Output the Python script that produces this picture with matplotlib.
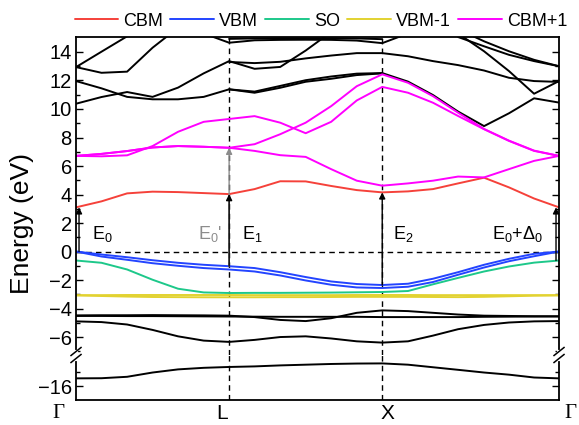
import matplotlib
matplotlib.use("Agg")
import matplotlib.pyplot as plt
import matplotlib.transforms as mtransforms
from matplotlib.lines import Line2D
import numpy as np

plt.rcParams['font.family'] = ['Liberation Sans', 'DejaVu Sans']
plt.rcParams['mathtext.default'] = 'regular'

nan = np.nan

# k-path sample points: Gamma - L - X - Gamma
k = [0.0, 0.144, 0.289, 0.433, 0.577, 0.722, 0.866,
     1.010, 1.155, 1.299, 1.443, 1.588, 1.732,
     1.878, 2.019, 2.161, 2.308, 2.449, 2.591, 2.732]
kpts = [0.0, 0.866, 1.732, 2.732]
klabels = ['Γ', 'L', 'X', 'Γ']

# conduction bands
cbm = [3.10, 3.52, 4.08, 4.20, 4.17, 4.10, 4.03, 4.38, 4.93, 4.92, 4.60, 4.31, 4.15,
       4.22, 4.38, 4.78, 5.18, 4.50, 3.72, 3.10]
cbm1_a = [6.71, 6.68, 6.75, 7.40, 8.40, 9.10, 9.30, 9.50, 9.04, 8.30, 9.10, 10.60, 11.55,
          11.14, 10.44, 9.51, 8.58, 7.76, 7.06, 6.71]
cbm1_b = [6.71, 6.85, 7.05, 7.30, 7.40, 7.35, 7.28, 7.53, 8.23, 9.04, 10.20, 11.60, 12.43,
          11.84, 10.90, 9.74, 8.60, 7.78, 7.08, 6.71]
cbm1_c = [6.71, 6.85, 7.05, 7.30, 7.40, 7.35, 7.28, 7.06, 6.76, 6.64, 5.78, 4.97, 4.62,
          4.78, 4.97, 5.26, 5.20, 5.78, 6.36, 6.71]

# valence bands
vbm_a = [0.0, -0.21, -0.40, -0.61, -0.79, -0.93, -1.03, -1.16, -1.45, -1.79, -2.10, -2.28, -2.35,
         -2.26, -1.91, -1.45, -0.93, -0.51, -0.16, 0.0]
vbm_b = [0.0, -0.35, -0.58, -0.82, -1.00, -1.16, -1.26, -1.40, -1.68, -2.03, -2.33, -2.52, -2.56,
         -2.47, -2.14, -1.63, -1.12, -0.68, -0.33, 0.0]
so = [-0.63, -0.79, -1.26, -1.98, -2.61, -2.87, -2.91, -2.90, -2.90, -2.89, -2.88, -2.86, -2.84,
      -2.77, -2.30, -1.85, -1.40, -1.05, -0.78, -0.63]
vbm1_a = [-3.06, -3.06, -3.05, -3.05, -3.05, -3.05, -3.05, -3.06, -3.06, -3.06, -3.06, -3.05, -3.05,
          -3.05, -3.06, -3.06, -3.06, -3.06, -3.06, -3.06]
vbm1_b = [-3.08, -3.12, -3.16, -3.19, -3.20, -3.21, -3.21, -3.21, -3.20, -3.20, -3.19, -3.18, -3.18,
          -3.18, -3.19, -3.20, -3.18, -3.14, -3.10, -3.08]

# remaining bands (black)
black_bands = [
    [12.94, 14.02, 15.10, 16.30, nan, nan, nan, nan, nan, nan, nan, nan, nan,
     nan, nan, nan, nan, nan, nan, nan],
    [12.94, 12.54, 12.62, 14.30, 15.70, nan, nan, nan, nan, nan, nan, nan, nan,
     nan, nan, nan, nan, nan, nan, nan],
    [11.96, 11.45, 10.85, 10.68, 10.68, 10.85, 11.38, 11.14, 11.49, 11.91, 12.12, 12.38, 12.50,
     nan, nan, nan, nan, nan, nan, nan],
    [10.37, 10.84, 11.19, 10.85, 11.50, 12.50, 13.36, 12.82, 12.95, 14.10, 15.40, nan, nan,
     nan, nan, nan, nan, nan, nan, nan],
    [nan, nan, nan, nan, nan, 15.30, 14.65, 14.82, 14.85, 14.86, 14.85, 14.80, 14.62,
     15.30, nan, nan, nan, nan, nan, nan],
    [nan, nan, nan, nan, nan, nan, 14.92, 14.95, 14.97, 14.97, 14.97, 14.95, 14.90,
     nan, nan, nan, nan, nan, nan, nan],
    [nan, nan, nan, nan, nan, nan, 13.30, 13.22, 13.31, 13.55, 13.75, 13.92, 13.92,
     13.70, 13.36, 13.08, 12.70, 12.19, 11.96, 11.90],
    [nan, nan, nan, nan, nan, nan, nan, nan, nan, nan, nan, nan, nan,
     nan, nan, 15.05, 14.40, 13.80, 13.36, 13.00],
    [nan, nan, nan, nan, nan, nan, nan, nan, nan, nan, nan, nan, nan,
     nan, nan, 15.60, 14.75, 14.05, 13.45, 13.00],
    [nan, nan, nan, nan, nan, nan, 11.38, 11.22, 11.62, 12.02, 12.28, 12.48, 12.52,
     11.92, 10.98, 9.82, 8.80, 9.70, 10.75, 10.45],
    [nan, nan, nan, nan, nan, nan, nan, nan, nan, nan, nan, nan, nan,
     nan, nan, 15.30, 14.05, 12.66, 11.07, 11.96],
    [-4.52, -4.52, -4.53, -4.53, -4.54, -4.55, -4.56, -4.57, -4.58, -4.58, -4.58, -4.58, -4.60,
     -4.60, -4.60, -4.60, -4.58, -4.57, -4.56, -4.55],
    [-4.48, -4.47, -4.47, -4.46, -4.47, -4.48, -4.50, -4.60, -4.80, -4.88, -4.68, -4.30, -4.13,
     -4.18, -4.30, -4.42, -4.50, -4.52, -4.54, -4.55],
    [-4.90, -4.95, -5.12, -5.50, -5.95, -6.25, -6.34, -6.20, -6.00, -5.95, -6.10, -6.30, -6.39,
     -6.30, -5.90, -5.45, -5.15, -4.98, -4.90, -4.88],
]
deep_band = [-15.46, -15.45, -15.35, -15.05, -14.83, -14.72, -14.66, -14.62, -14.55, -14.50, -14.45,
             -14.42, -14.41, -14.50, -14.68, -14.86, -15.05, -15.20, -15.40, -15.46]

c_cbm = '#f5413a'
c_vbm = '#2344ff'
c_so = '#1dc88a'
c_vbm1 = '#e2d230'
c_cbm1 = '#ff00ff'

fig = plt.figure(figsize=(5.79, 4.25), dpi=100)
ax = fig.add_axes([0.1313, 0.1647, 0.8342, 0.7482])
axb = fig.add_axes([0.1313, 0.0588, 0.8342, 0.1059], sharex=ax)

lw = 1.4
style = dict(lw=lw, solid_joinstyle='round', solid_capstyle='round')
for band in black_bands:
    ax.plot(k, band, color='black', **style)
axb.plot(k, deep_band, color='black', **style)

ax.plot(k, vbm1_b, color=c_vbm1, **style)
l_vbm1, = ax.plot(k, vbm1_a, color=c_vbm1, label='VBM-1', **style)
l_so, = ax.plot(k, so, color=c_so, label='SO', **style)
ax.plot(k, vbm_b, color=c_vbm, **style)
l_vbm, = ax.plot(k, vbm_a, color=c_vbm, label='VBM', **style)
l_cbm, = ax.plot(k, cbm, color=c_cbm, label='CBM', **style)
ax.plot(k, cbm1_c, color=c_cbm1, **style)
ax.plot(k, cbm1_b, color=c_cbm1, **style)
l_cbm1, = ax.plot(k, cbm1_a, color=c_cbm1, label='CBM+1', **style)

# Fermi level and high-symmetry lines
dash = (0, (4, 3))
ax.axhline(0, color='black', lw=1.0, ls=dash, zorder=1)
for kp in kpts[1:3]:
    ax.axvline(kp, color='black', lw=1.0, ls=dash, zorder=1)
    axb.axvline(kp, color='black', lw=1.0, ls=dash, zorder=1)

# optical transitions
def transition(a, x, e0, e1, color='black'):
    a.annotate('', xy=(x, e1), xytext=(x, e0),
               arrowprops=dict(arrowstyle='-|>', color=color, lw=1.0,
                               mutation_scale=9, shrinkA=0, shrinkB=0))

transition(ax, 0.017, vbm_a[0], cbm[0])
transition(ax, kpts[1], vbm_a[6], cbm1_b[6], color='#8c8c8c')
transition(ax, kpts[1], vbm_a[6], cbm[6])
transition(ax, kpts[2], vbm_a[12], cbm[12])
transition(ax, 2.715, so[-1], cbm[-1])

tsize = 13
ax.text(0.09, 1.2, 'E$_0$', fontsize=tsize, va='center', ha='left')
ax.text(0.69, 1.2, "E$_0$'", fontsize=tsize, va='center', ha='left', color='#8c8c8c')
ax.text(0.939, 1.2, 'E$_1$', fontsize=tsize, va='center', ha='left')
ax.text(1.793, 1.2, 'E$_2$', fontsize=tsize, va='center', ha='left')
ax.text(2.641, 1.2, 'E$_0$+Δ$_0$', fontsize=tsize, va='center', ha='right')

# axes limits, ticks and spines
ax.set_xlim(0, 2.732)
ax.set_ylim(-7.26, 15.05)
axb.set_ylim(-16.98, -13.82)
ax.set_yticks(np.arange(-6, 15, 2))
ax.set_yticks(np.arange(-7, 15, 1), minor=True)
axb.set_yticks([-16])
axb.set_yticks([-15], minor=True)
for a in (ax, axb):
    a.tick_params(axis='y', which='both', direction='in', left=True, right=True,
                  labelsize=14.5, width=1.0, pad=3)
    a.tick_params(axis='y', which='major', length=5)
    a.tick_params(axis='y', which='minor', length=3)
    a.tick_params(axis='x', which='both', length=0, labelbottom=False)
    for s in a.spines.values():
        s.set_linewidth(1.3)
ax.spines['bottom'].set_visible(False)
axb.spines['top'].set_visible(False)

# k-point labels
lab_off = [-18, -7, 5, 11]
for kp, lab, off in zip(kpts, klabels, lab_off):
    tr = mtransforms.offset_copy(
        mtransforms.blended_transform_factory(axb.transData, axb.transAxes),
        fig=fig, x=off * 0.72, y=0, units='points')
    fam = ['Liberation Serif', 'DejaVu Serif'] if lab == 'Γ' else None
    axb.text(kp, -0.3, lab, transform=tr, ha='center', va='center',
             fontsize=15, family=fam)

# axis break marks on both spines
y0 = 0.1647
for x0 in (0.1313, 0.1313 + 0.8342):
    fig.add_artist(Line2D([x0, x0], [y0 - 3.5 / 425, y0 + 3.5 / 425], color='white',
                          lw=3, transform=fig.transFigure))
    for dy in (-3.5, 3.5):
        fig.add_artist(Line2D([x0 - 5 / 579, x0 + 5 / 579],
                              [y0 + (dy - 4) / 425, y0 + (dy + 4) / 425],
                              color='black', lw=1.1, transform=fig.transFigure))

fig.text(22 / 579, 1 - 223 / 425, 'Energy (eV)', rotation=90, ha='center', va='center',
         fontsize=19)

fig.legend([l_cbm, l_vbm, l_so, l_vbm1, l_cbm1], ['CBM', 'VBM', 'SO', 'VBM-1', 'CBM+1'],
           loc='center', bbox_to_anchor=(321 / 579, 1 - 21 / 425), ncol=5, frameon=False,
           fontsize=13, handlelength=2.4, handletextpad=0.3, columnspacing=0.4,
           borderpad=0, borderaxespad=0)

fig.savefig('out.png', dpi=100)
